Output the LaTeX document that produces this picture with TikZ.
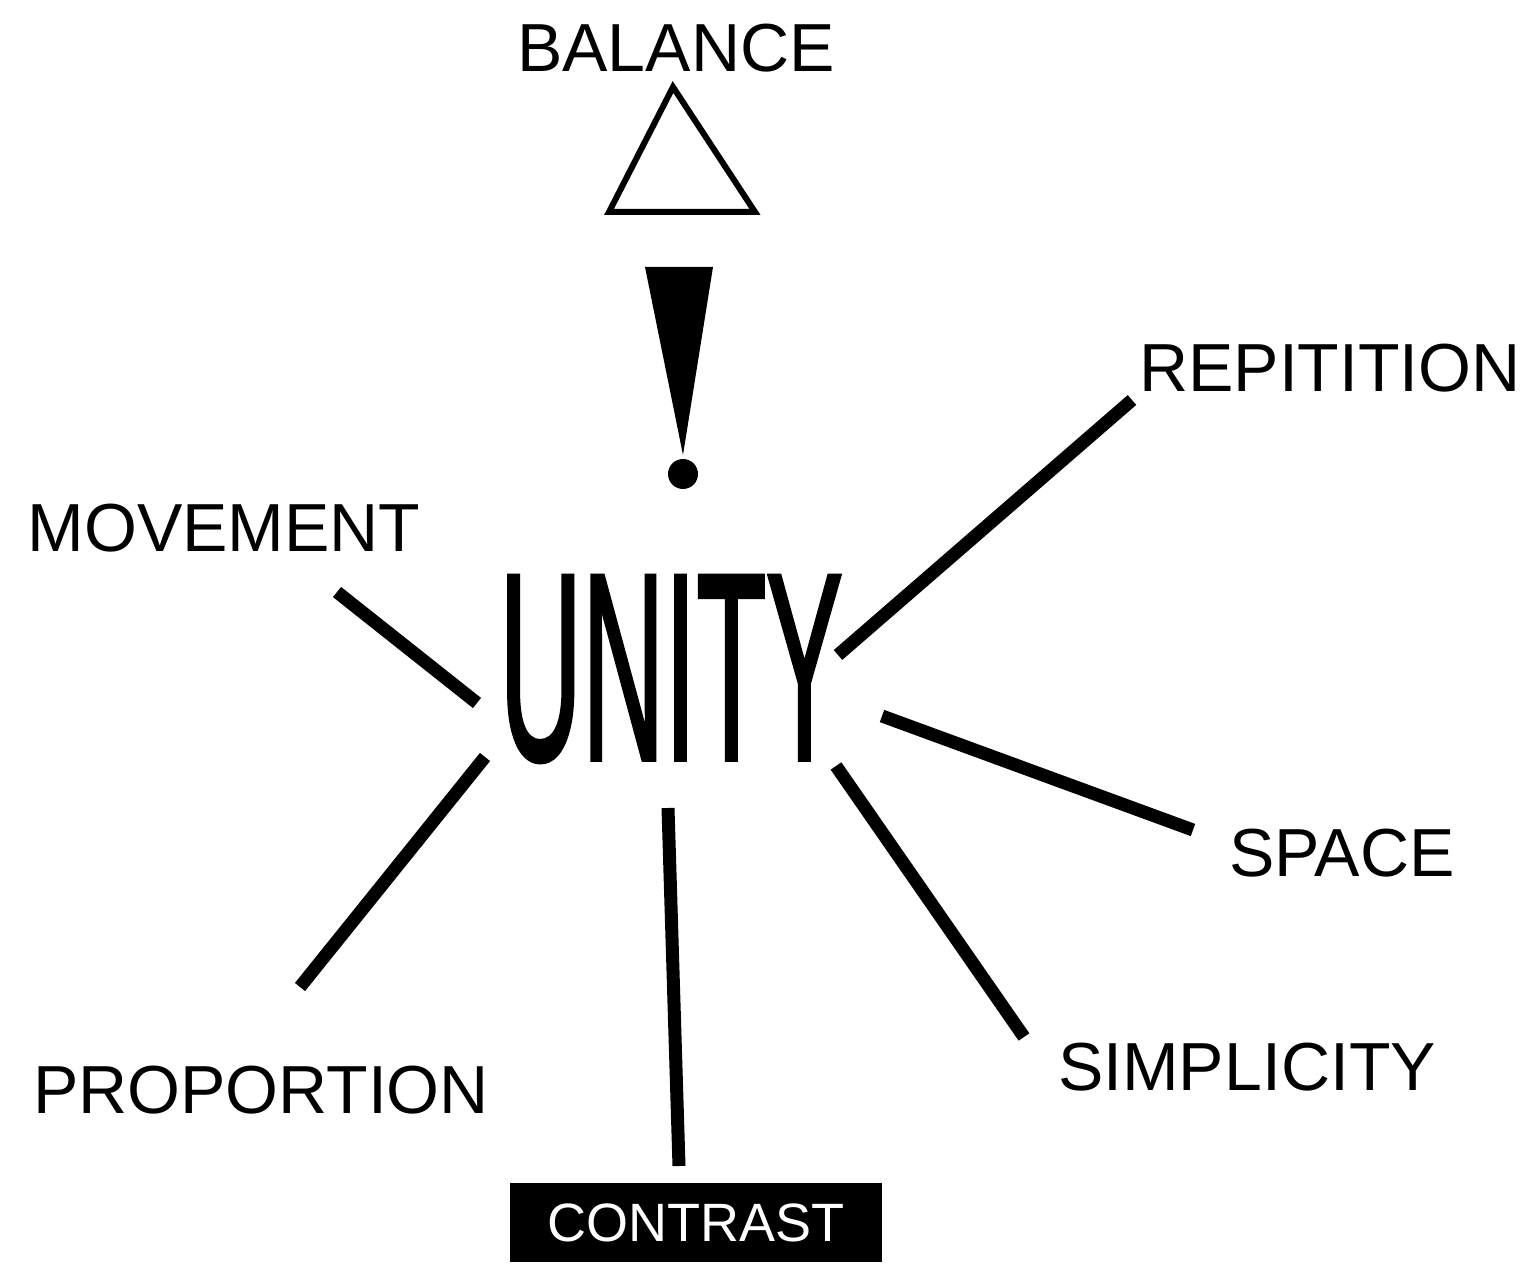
\documentclass[tikz,border=0pt]{standalone}
\usepackage{fontspec}
\setmainfont{Liberation Sans}
\newfontfamily\unityfont[FakeBold=2]{Liberation Sans}
\begin{document}
\begin{tikzpicture}[x=0.5pt,y=-0.5pt,
  lbl/.style={inner sep=0pt,anchor=center,font=\fontsize{34}{34}\selectfont},
  ray/.style={line width=6.5pt,line cap=butt}]
\useasboundingbox (0,0) rectangle (1527,1267);
% labels
\node[lbl] (balance) at (676,48) {BALANCE};
\node[lbl] (movement) at (224,528) {MOVEMENT};
\node[lbl] (repitition) at (1330,368) {REPITITION};
\node[lbl] (space) at (1342,853) {SPACE};
\node[lbl] (simplicity) at (1247,1067) {SIMPLICITY};
\node[lbl] (proportion) at (261,1090) {PROPORTION};
\node[fill=black,text=white,inner sep=0pt,minimum width=186pt,minimum height=39.5pt,
  font=\fontsize{27}{27}\selectfont] (contrast) at (696,1222.5) {CONTRAST};
% center
\node[inner sep=0pt,font=\unityfont\fontsize{133}{133}\selectfont] (unity) at (671,669)
  {\scalebox{0.43}[1]{UNITY}};
% triangle
\coordinate (ta) at (673,87);
\coordinate (tl) at (609,212);
\coordinate (tr) at (755,212);
\draw[line width=3pt,line join=miter] (ta) -- (tl) -- (tr) -- cycle;
% exclamation
\coordinate (el) at (645,267);
\coordinate (er) at (713,267);
\coordinate (eb) at (683,455);
\coordinate (ed) at (683,474);
\fill (el) -- (er) -- (eb) -- cycle;
\fill (ed) circle (15);
% rays
\coordinate (m1) at (337,592); \coordinate (m2) at (477,703);
\coordinate (r1) at (838,655); \coordinate (r2) at (1132,400);
\coordinate (s1) at (882,716); \coordinate (s2) at (1193,830);
\coordinate (p1) at (836,766); \coordinate (p2) at (1024,1037);
\coordinate (c1) at (668,808); \coordinate (c2) at (679,1166);
\coordinate (o1) at (485,757); \coordinate (o2) at (300,987);
\draw[ray] (m1) -- (m2);
\draw[ray] (r1) -- (r2);
\draw[ray] (s1) -- (s2);
\draw[ray] (p1) -- (p2);
\draw[ray] (c1) -- (c2);
\draw[ray] (o1) -- (o2);
\end{tikzpicture}
\end{document}
